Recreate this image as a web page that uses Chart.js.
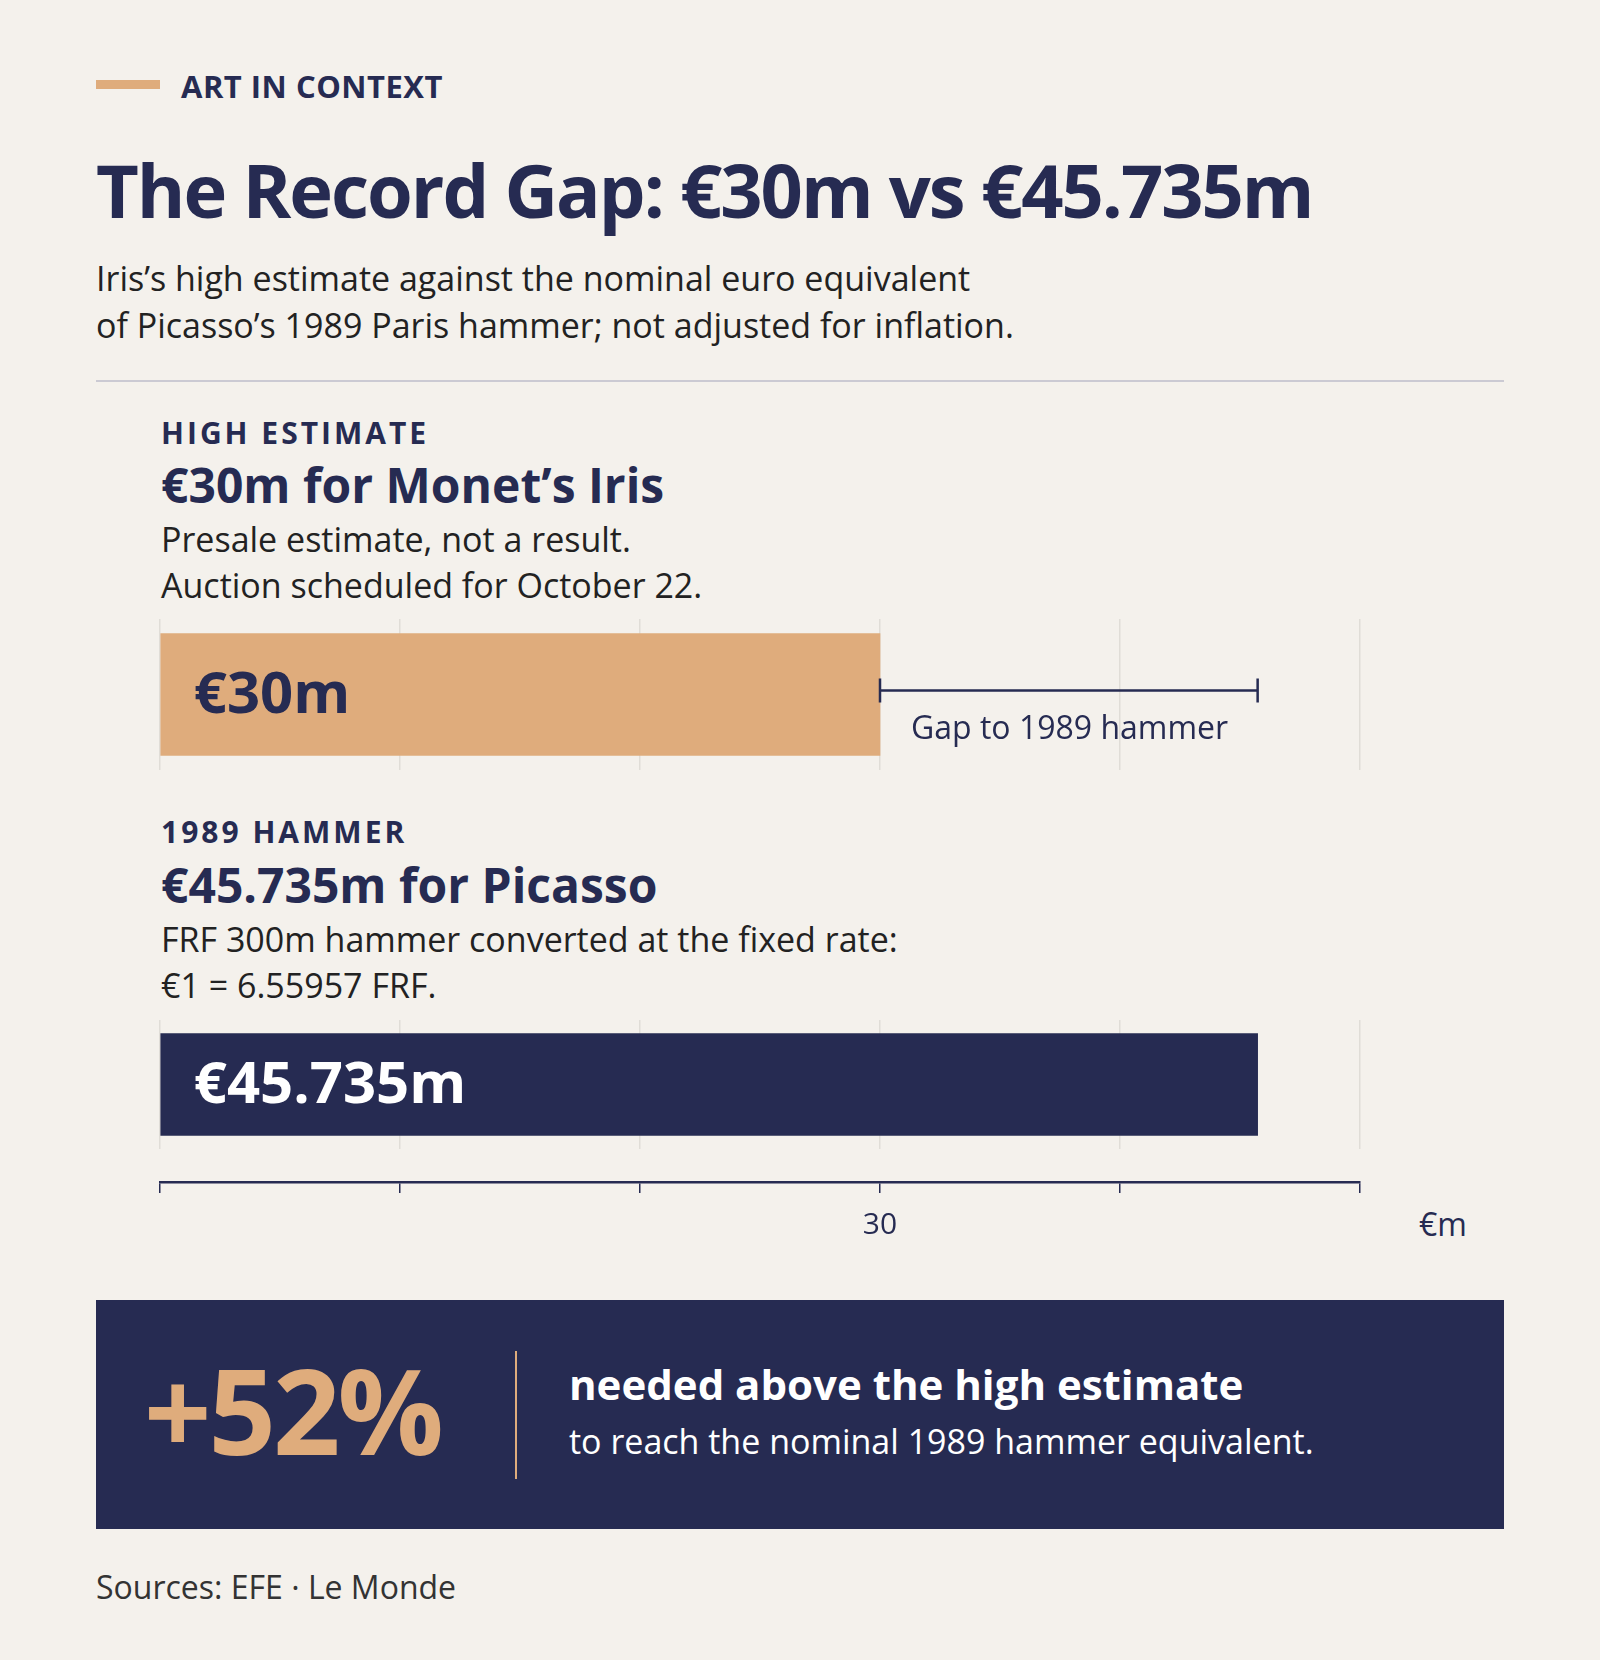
<!DOCTYPE html>
<html><head><meta charset="utf-8">
<script src="https://cdn.jsdelivr.net/npm/chart.js@4.4.1/dist/chart.umd.min.js"></script>
<style>
html,body{margin:0;padding:0;background:#f4f1ec;}
body{width:1600px;height:1660px;position:relative;overflow:hidden;font-family:"Open Sans",sans-serif;color:#222;}
.t{position:absolute;white-space:nowrap;line-height:1;}
.navy{color:#262b52;}
.b{font-weight:700;}
canvas{position:absolute;}
</style></head><body>
<div style="position:absolute;left:96px;top:80px;width:64px;height:9px;background:#dfac7c"></div>
<div class="t b navy" style="left:181px;top:71px;font-size:31px;letter-spacing:0.5px">ART IN CONTEXT</div>
<div class="t b navy" style="left:96px;top:153px;font-size:74px;letter-spacing:-2px">The Record Gap: €30m vs €45.735m</div>
<div class="t" style="left:96px;top:261px;font-size:34px">Iris’s high estimate against the nominal euro equivalent</div>
<div class="t" style="left:96px;top:308px;font-size:34px">of Picasso’s 1989 Paris hammer; not adjusted for inflation.</div>
<div style="position:absolute;left:96px;top:380px;width:1408px;height:2px;background:#cbcad3"></div>

<div class="t b navy" style="left:161px;top:418px;font-size:30px;letter-spacing:3px">HIGH ESTIMATE</div>
<div class="t b navy" style="left:161px;top:461px;font-size:48px">€30m for Monet’s Iris</div>
<div class="t" style="left:161px;top:522px;font-size:34px">Presale estimate, not a result.</div>
<div class="t" style="left:161px;top:568px;font-size:34px">Auction scheduled for October 22.</div>
<canvas id="c1" width="1204" height="151" style="left:158px;top:619px"></canvas>

<div class="t b navy" style="left:161px;top:817px;font-size:30px;letter-spacing:3px">1989 HAMMER</div>
<div class="t b navy" style="left:161px;top:861px;font-size:48px">€45.735m for Picasso</div>
<div class="t" style="left:161px;top:922px;font-size:34px">FRF 300m hammer converted at the fixed rate:</div>
<div class="t" style="left:161px;top:968px;font-size:34px">€1 = 6.55957 FRF.</div>
<canvas id="c2" width="1204" height="129" style="left:158px;top:1020px"></canvas>

<canvas id="c3" width="1204" height="80" style="left:158px;top:1162px"></canvas>
<div class="t navy" style="left:1419px;top:1208px;font-size:32px">€m</div>

<div style="position:absolute;left:96px;top:1300px;width:1408px;height:229px;background:#262b52"></div>
<div class="t b" style="left:144px;top:1351px;font-size:118px;color:#dfac7c;letter-spacing:-3px">+52%</div>
<div style="position:absolute;left:515px;top:1351px;width:2px;height:128px;background:#dfac7c"></div>
<div class="t b" style="left:569px;top:1363px;font-size:42px;color:#fff">needed above the high estimate</div>
<div class="t" style="left:569px;top:1424px;font-size:34px;color:#fff">to reach the nominal 1989 hammer equivalent.</div>

<div class="t" style="left:96px;top:1571px;font-size:32px;color:#333">Sources: EFE · Le Monde</div>

<script>
// ---- data ----
const categories = ['High estimate: Monet, Iris', '1989 hammer: Picasso'];
const valuesEURm = [30, 45.735];
const axisMin = 0;
const axisMax = 50;
const axisStep = 10;
const tickLabels = [30];
const gapLabel = 'Gap to 1989 hammer';

// ---- styles ----
const NAVY = '#262b52', ORANGE = '#dfac7c', GRID = '#e0ddd7';
const FONT = '"Open Sans", sans-serif';

function fmt(v){ return '€' + v + 'm'; }

const barLabelPlugin = {
  id: 'barLabel',
  afterDatasetsDraw(chart, args, opts) {
    const ctx = chart.ctx;
    chart.getDatasetMeta(0).data.forEach((bar, i) => {
      const v = chart.data.datasets[0].data[i];
      ctx.save();
      ctx.font = '700 58px ' + FONT;
      ctx.fillStyle = opts.color;
      ctx.textBaseline = 'middle';
      ctx.textAlign = 'left';
      ctx.fillText(fmt(v), bar.base + 33, bar.y + 2);
      ctx.restore();
    });
  }
};

const gapPlugin = {
  id: 'gap',
  afterDatasetsDraw(chart, args, opts) {
    if (!opts.show) return;
    const ctx = chart.ctx, xs = chart.scales.x;
    const bar = chart.getDatasetMeta(0).data[0];
    const x1 = xs.getPixelForValue(valuesEURm[0]);
    const x2 = xs.getPixelForValue(valuesEURm[1]);
    const y = bar.y - 4;
    ctx.save();
    ctx.strokeStyle = NAVY;
    ctx.lineWidth = 2.5;
    ctx.beginPath();
    ctx.moveTo(x1, y); ctx.lineTo(x2, y);
    ctx.moveTo(x1, y - 12); ctx.lineTo(x1, y + 12);
    ctx.moveTo(x2, y - 12); ctx.lineTo(x2, y + 12);
    ctx.stroke();
    ctx.font = '400 32px ' + FONT;
    ctx.fillStyle = NAVY;
    ctx.textBaseline = 'alphabetic';
    ctx.fillText(gapLabel, x1 + 31, y + 48);
    ctx.restore();
  }
};

function barChart(id, idx, color, labelColor, thickness, showGap) {
  return new Chart(document.getElementById(id), {
    type: 'bar',
    data: { labels: [categories[idx]], datasets: [{ data: [valuesEURm[idx]], backgroundColor: color, barThickness: thickness, borderWidth: 0 }] },
    options: {
      indexAxis: 'y', responsive: false, animation: false,
      layout: { padding: { left: 2, right: 2, top: 0, bottom: 0 } },
      plugins: { legend: { display: false }, tooltip: { enabled: false }, barLabel: { color: labelColor }, gap: { show: showGap } },
      scales: {
        x: { min: axisMin, max: axisMax, ticks: { display: false, stepSize: axisStep },
             grid: { color: GRID, lineWidth: 1.5, drawTicks: false }, border: { display: false },
             afterFit: s => { s.height = 0; } },
        y: { display: false }
      }
    },
    plugins: [barLabelPlugin, gapPlugin]
  });
}

barChart('c1', 0, ORANGE, NAVY, 122, true);
barChart('c2', 1, NAVY, '#ffffff', 102, false);

new Chart(document.getElementById('c3'), {
  type: 'bar',
  data: { labels: [''], datasets: [{ data: [], backgroundColor: 'transparent' }] },
  options: {
    indexAxis: 'y', responsive: false, animation: false,
    layout: { padding: { left: 2, right: 2, top: 0, bottom: 0 } },
    plugins: { legend: { display: false }, tooltip: { enabled: false } },
    scales: {
      x: { min: axisMin, max: axisMax,
           ticks: { stepSize: axisStep, padding: 14, color: NAVY, font: { family: FONT, size: 30 },
                    autoSkip: false, maxRotation: 0,
                    callback: v => tickLabels.includes(v) ? String(v) : '' },
           grid: { drawOnChartArea: false, drawTicks: true, tickLength: 11, color: NAVY, lineWidth: 1.5 },
           border: { display: true, color: NAVY, width: 2.5 },
           afterFit: s => { s.height = 60; s.paddingLeft = 0; s.paddingRight = 0; } },
      y: { display: false }
    }
  }
});
</script>
</body></html>
